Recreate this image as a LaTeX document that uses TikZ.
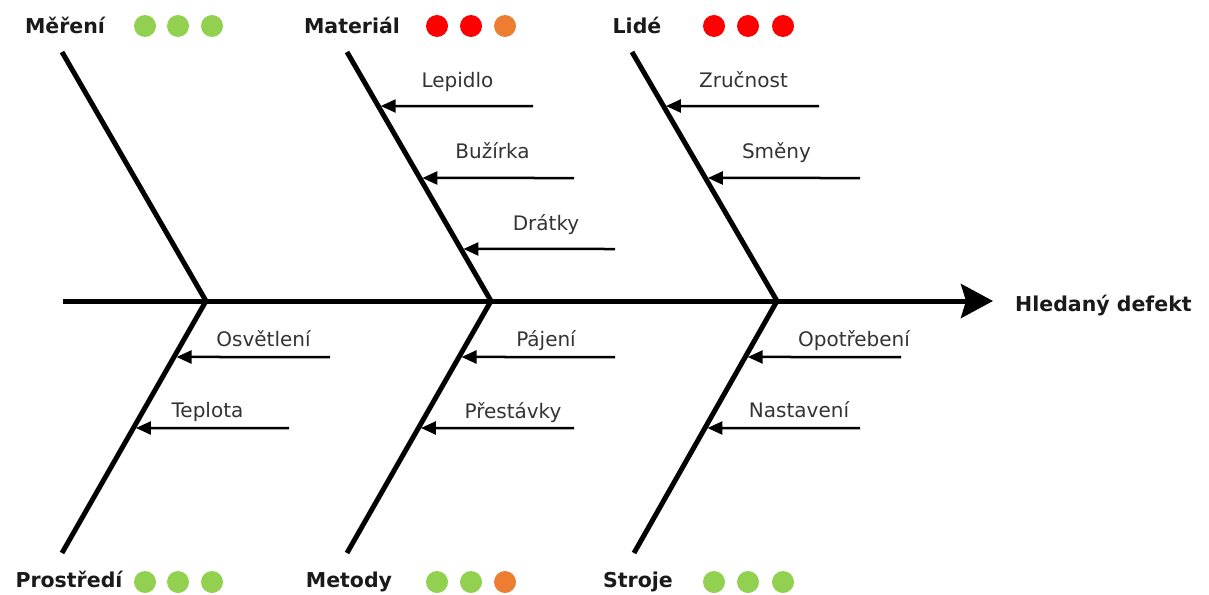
\documentclass[tikz,border=0pt]{standalone}
\usepackage{fontspec}
\setmainfont{DejaVu Sans}
\usetikzlibrary{arrows.meta}
\definecolor{okgreen}{HTML}{92D050}
\definecolor{alarmred}{HTML}{FF0000}
\definecolor{warnorange}{HTML}{ED7D31}
\definecolor{labelgray}{HTML}{333333}
\definecolor{headblack}{HTML}{1A1A1A}

\begin{document}
\begin{tikzpicture}[x=1pt,y=-1pt,
  bone/.style={line width=5pt, black, line join=miter},
  spine/.style={line width=5pt, black, -{Stealth[length=32pt,width=34pt,inset=5pt]}},
  cause/.style={line width=2.5pt, black, shorten >=2.5pt, -{Triangle[length=15pt,width=13pt]}},
  causelabel/.style={font=\fontsize{20}{24}\selectfont, text=labelgray, anchor=base, inner sep=0pt},
  head/.style={font=\bfseries\fontsize{20.5}{24}\selectfont, text=headblack, anchor=base, inner sep=0pt},
  dot/.style={circle, inner sep=0pt, minimum size=22pt},
]
\useasboundingbox (0,0) rectangle (1209,594);

% joints on the spine
\coordinate (s0) at (63,301);
\coordinate (tip) at (993,301);
\coordinate (j1) at (206,301);
\coordinate (j2) at (491,301);
\coordinate (j3) at (777,301);
% free ends of the bones
\coordinate (t1) at (62,52);
\coordinate (t2) at (347,52);
\coordinate (t3) at (632,52);
\coordinate (b1) at (62,553);
\coordinate (b2) at (347,553);
\coordinate (b3) at (634,553);

% spine
\draw[spine] (s0) -- (tip);

% bones, with the points where the causes meet them
\draw[bone] (t1) -- (j1) -- coordinate[pos=0.2222] (p1) coordinate[pos=0.504] (p2) (b1);
\draw[bone] (t2) -- coordinate[pos=0.2169] (m1) coordinate[pos=0.506] (m2) coordinate[pos=0.791] (m3) (j2)
  -- coordinate[pos=0.2222] (k1) coordinate[pos=0.504] (k2) (b2);
\draw[bone] (t3) -- coordinate[pos=0.2169] (l1) coordinate[pos=0.506] (l2) (j3)
  -- coordinate[pos=0.2222] (r1) coordinate[pos=0.504] (r2) (b3);

% starting points of the causes
\coordinate (em1) at (533,106);
\coordinate (em2) at (574,178);
\coordinate (em3) at (615,249);
\coordinate (el1) at (819,106);
\coordinate (el2) at (860,178);
\coordinate (ep1) at (330,357);
\coordinate (ep2) at (289,428);
\coordinate (ek1) at (615,357);
\coordinate (ek2) at (574,428);
\coordinate (er1) at (901,357);
\coordinate (er2) at (860,428);

\draw[cause] (em1) -- (m1);
\draw[cause] (em2) -- (m2);
\draw[cause] (em3) -- (m3);
\draw[cause] (el1) -- (l1);
\draw[cause] (el2) -- (l2);
\draw[cause] (ep1) -- (p1);
\draw[cause] (ep2) -- (p2);
\draw[cause] (ek1) -- (k1);
\draw[cause] (ek2) -- (k2);
\draw[cause] (er1) -- (r1);
\draw[cause] (er2) -- (r2);

% cause labels
\node[causelabel] (lab-lepidlo) at (457.5,88) {Lepidlo};
\node[causelabel] (lab-buzirka) at (492.5,158) {Bužírka};
\node[causelabel] (lab-dratky) at (546,230) {Drátky};
\node[causelabel] (lab-zrucnost) at (743.5,87) {Zručnost};
\node[causelabel] (lab-smeny) at (776.5,158) {Směny};
\node[causelabel] (lab-osvetleni) at (263.5,346) {Osvětlení};
\node[causelabel] (lab-teplota) at (207.5,417) {Teplota};
\node[causelabel] (lab-pajeni) at (546,346) {Pájení};
\node[causelabel] (lab-prestavky) at (513,418) {Přestávky};
\node[causelabel] (lab-opotrebeni) at (854,346) {Opotřebení};
\node[causelabel] (lab-nastaveni) at (799,417) {Nastavení};

% category headings
\node[head] (h-mereni) at (65,34) {Měření};
\node[head] (h-material) at (352,34) {Materiál};
\node[head] (h-lide) at (637,34) {Lidé};
\node[head] (h-prostredi) at (69,587) {Prostředí};
\node[head] (h-metody) at (349,587) {Metody};
\node[head] (h-stroje) at (638,587) {Stroje};
\node[head, anchor=base west] (h-defekt) at (1015,311) {Hledaný defekt};

% status dots
\node[dot, fill=okgreen] (d-me1) at (145,26) {};
\node[dot, fill=okgreen] (d-me2) at (178,26) {};
\node[dot, fill=okgreen] (d-me3) at (212,26) {};
\node[dot, fill=alarmred] (d-ma1) at (437,26) {};
\node[dot, fill=alarmred] (d-ma2) at (471,26) {};
\node[dot, fill=warnorange] (d-ma3) at (505,26) {};
\node[dot, fill=alarmred] (d-li1) at (714,26) {};
\node[dot, fill=alarmred] (d-li2) at (748,26) {};
\node[dot, fill=alarmred] (d-li3) at (783,26) {};
\node[dot, fill=okgreen] (d-pr1) at (145,582) {};
\node[dot, fill=okgreen] (d-pr2) at (178,582) {};
\node[dot, fill=okgreen] (d-pr3) at (212,582) {};
\node[dot, fill=okgreen] (d-mt1) at (437,582) {};
\node[dot, fill=okgreen] (d-mt2) at (471,582) {};
\node[dot, fill=warnorange] (d-mt3) at (505,582) {};
\node[dot, fill=okgreen] (d-st1) at (714,582) {};
\node[dot, fill=okgreen] (d-st2) at (748,582) {};
\node[dot, fill=okgreen] (d-st3) at (783,582) {};
\end{tikzpicture}
\end{document}
